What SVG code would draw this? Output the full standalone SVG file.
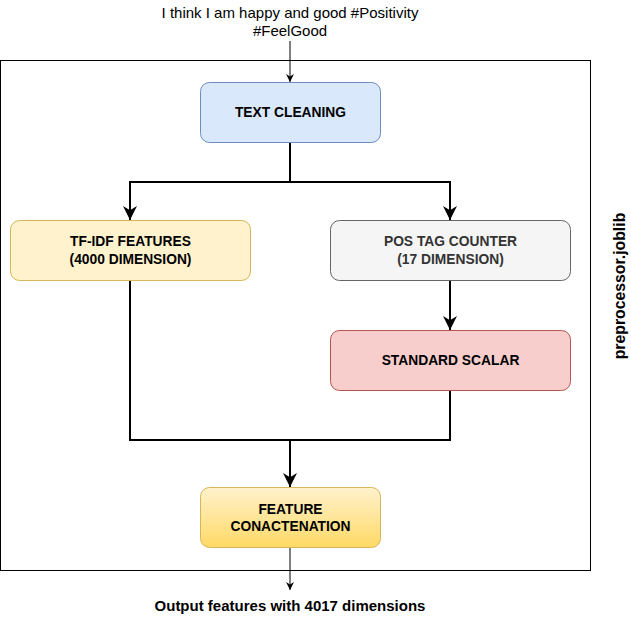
<svg xmlns="http://www.w3.org/2000/svg" width="631" height="620" viewBox="0 0 631 620">
<style>
text{font-family:"Liberation Sans",Arial,sans-serif;fill:#000}
.lbl{font-size:13.8px;font-weight:bold;text-anchor:middle}
.plain{font-size:15px;text-anchor:middle}
.thick{fill:none;stroke:#000;stroke-width:2}
.thin{fill:none;stroke:#000;stroke-width:1}
</style>
<defs>
<marker id="arrBig" markerUnits="userSpaceOnUse" markerWidth="14" markerHeight="14" viewBox="0 0 10 10" refX="10" refY="5" orient="auto">
<path d="M0,0 L10,5 L0,10 L3,5 Z" fill="#000"/>
</marker>
<marker id="arrSmall" markerUnits="userSpaceOnUse" markerWidth="8" markerHeight="8" viewBox="0 0 10 10" refX="10" refY="5" orient="auto">
<path d="M0,0 L10,5 L0,10 L3,5 Z" fill="#000"/>
</marker>
<linearGradient id="gradFeat" x1="0" y1="0" x2="0" y2="1">
<stop offset="0" stop-color="#fff2cc"/>
<stop offset="1" stop-color="#ffd966"/>
</linearGradient>
</defs>
<rect width="631" height="620" fill="#fff"/>
<g id="container">
<rect x="0.5" y="60.5" width="590" height="510" fill="none" stroke="#000" stroke-width="1"/>
<text x="625" y="286" transform="rotate(-90 625 286)" style="font-size:15.8px;font-weight:bold;text-anchor:middle">preprocessor.joblib</text>
</g>
<g id="input-text">
<text class="plain" x="290" y="18">I think I am happy and good #Positivity</text>
<text class="plain" x="290" y="35.5">#FeelGood</text>
</g>
<g id="connectors">
<path class="thin" d="M290,41 L290,82" marker-end="url(#arrSmall)"/>
<path class="thick" d="M290,142 L290,182 L130,182 L130,220" marker-end="url(#arrBig)"/>
<path class="thick" d="M290,182 L450,182 L450,220" marker-end="url(#arrBig)"/>
<path class="thick" d="M450,280 L450,330" marker-end="url(#arrBig)"/>
<path class="thick" d="M130,280 L130,440 L290,440 L290,487" marker-end="url(#arrBig)"/>
<path class="thick" d="M450,390 L450,440 L290,440"/>
<path class="thin" d="M290,547 L290,590" marker-end="url(#arrSmall)"/>
</g>
<g id="text-cleaning">
<rect x="200.5" y="82.5" width="180" height="60" rx="9" fill="#dae8fc" stroke="#6c8ebf"/>
<text class="lbl" x="290.5" y="117">TEXT CLEANING</text>
</g>
<g id="tfidf">
<rect x="10.5" y="220.5" width="240" height="60" rx="9" fill="#fff2cc" stroke="#d6b656"/>
<text class="lbl" x="130.5" y="246">TF-IDF FEATURES</text>
<text class="lbl" x="130.5" y="264">(4000 DIMENSION)</text>
</g>
<g id="pos-tag">
<rect x="330.5" y="220.5" width="240" height="60" rx="9" fill="#f5f5f5" stroke="#666666"/>
<text class="lbl" x="450.5" y="246" style="fill:#333333">POS TAG COUNTER</text>
<text class="lbl" x="450.5" y="264" style="fill:#333333">(17 DIMENSION)</text>
</g>
<g id="standard-scalar">
<rect x="330.5" y="330.5" width="240" height="60" rx="9" fill="#f8cecc" stroke="#b85450"/>
<text class="lbl" x="450.5" y="365">STANDARD SCALAR</text>
</g>
<g id="feature-concat">
<rect x="200.5" y="487.5" width="180" height="60" rx="9" fill="url(#gradFeat)" stroke="#d6b656"/>
<text class="lbl" x="290.5" y="513.5">FEATURE</text>
<text class="lbl" x="290.5" y="531">CONACTENATION</text>
</g>
<g id="output-text">
<text x="290" y="611" style="font-size:15px;font-weight:bold;text-anchor:middle">Output features with 4017 dimensions</text>
</g>
</svg>
